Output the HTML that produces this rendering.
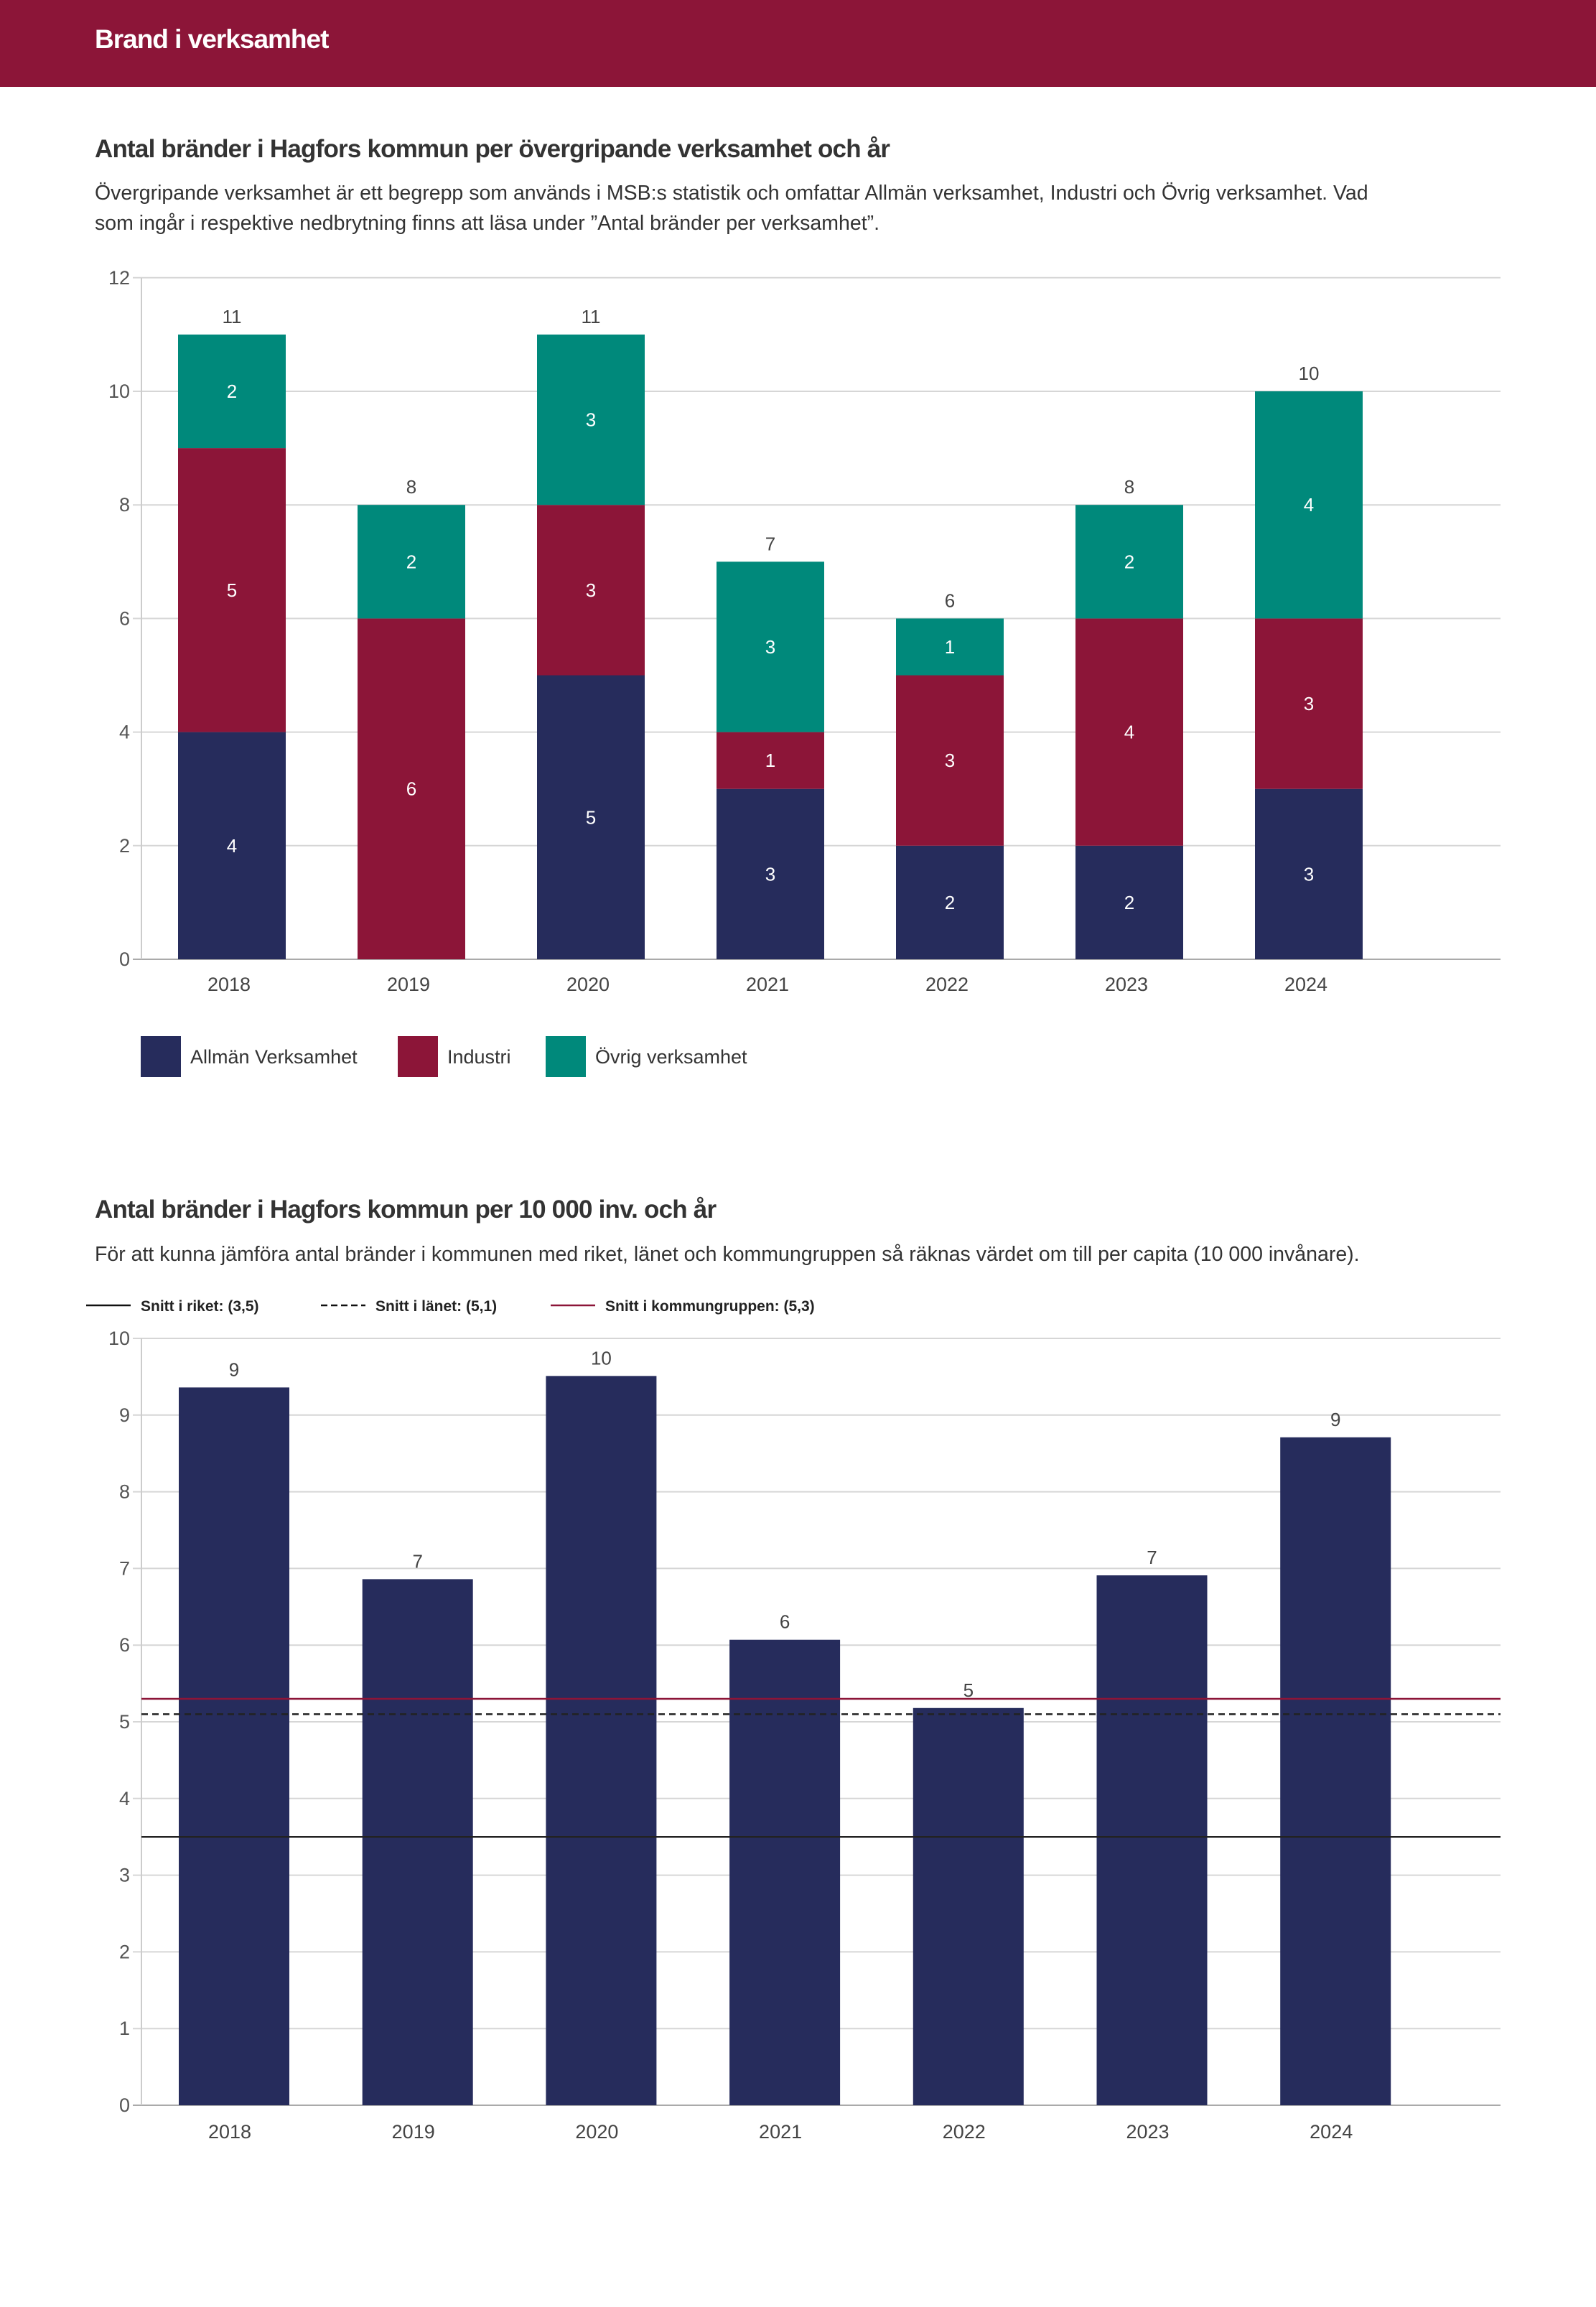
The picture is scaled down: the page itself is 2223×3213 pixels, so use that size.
<!DOCTYPE html>
<html><head><meta charset="utf-8">
<style>
html,body{margin:0;padding:0;background:#fff;}
body{width:2223px;height:3213px;position:relative;overflow:hidden;font-family:"Liberation Sans",sans-serif;}
.hdr{position:absolute;left:0;top:0;width:2223px;height:121px;background:#8c1538;}
.hdr span{position:absolute;left:132px;top:34px;color:#fff;font-weight:bold;font-size:37px;letter-spacing:-1px;}
.t{position:absolute;left:132px;color:#333;font-weight:bold;font-size:35px;letter-spacing:-0.8px;white-space:nowrap;}
.s{position:absolute;left:132px;color:#333;font-size:28.5px;white-space:nowrap;line-height:42px;}
svg{position:absolute;left:0;top:0;}
</style></head>
<body>
<div class="hdr"><span>Brand i verksamhet</span></div>
<div class="t" style="top:188px">Antal bränder i Hagfors kommun per övergripande verksamhet och år</div>
<div class="s" style="top:248px">Övergripande verksamhet är ett begrepp som används i MSB:s statistik och omfattar Allmän verksamhet, Industri och Övrig verksamhet. Vad<br>som ingår i respektive nedbrytning finns att läsa under ”Antal bränder per verksamhet”.</div>
<div class="t" style="top:1665px">Antal bränder i Hagfors kommun per 10 000 inv. och år</div>
<div class="s" style="top:1726px">För att kunna jämföra antal bränder i kommunen med riket, länet och kommungruppen så räknas värdet om till per capita (10 000 invånare).</div>
<svg id="c" width="2223" height="3213" xmlns="http://www.w3.org/2000/svg" font-family="Liberation Sans, sans-serif"></svg>
<script>
const years = ["2018","2019","2020","2021","2022","2023","2024"];
const allman = [4,0,5,3,2,2,3];
const industri = [5,6,3,1,3,4,3];
const ovrig = [2,2,3,3,1,2,4];
const ticks1 = [0,2,4,6,8,10,12];
const perCapita = [9.36,6.86,9.51,6.07,5.18,6.91,8.71];
const perCapitaLabels = ["9","7","10","6","5","7","9"];
const ticks2 = [0,1,2,3,4,5,6,7,8,9,10];
const refRiket = 3.5;
const refLanet = 5.1;
const refGrupp = 5.3;

const svg = document.getElementById('c');
const NS = 'http://www.w3.org/2000/svg';
function mk(tag, at, txt){const e=document.createElementNS(NS,tag);for(const k in at)e.setAttribute(k,at[k]);if(txt!==undefined)e.textContent=txt;svg.appendChild(e);return e;}
const NAVY='#262c5c', RED='#8c1538', TEAL='#00897b';

// chart 1
const y1 = v => 1336 - v*79.1;
const x1 = i => 323 + i*250;
ticks1.forEach(t=>{
  const g=mk('line',{x1:185,x2:2090,y1:y1(t),y2:y1(t),stroke:t===0?'#aaa':'#d6d6d6','stroke-width':2});
  
  
  const l=mk('text',{x:181,y:y1(t)+9,'text-anchor':'end','font-size':27,fill:'#555'},t);
  
  
});
const ax1=mk('line',{x1:197,x2:197,y1:387,y2:1336,stroke:'#ccc','stroke-width':2});


years.forEach((yr,i)=>{
  const cx=x1(i), w=150;
  const segs=[[allman[i],NAVY,'allman'],[industri[i],RED,'industri'],[ovrig[i],TEAL,'ovrig']];
  let base=0;
  segs.forEach(([v,c,n])=>{
    if(v>0){
      const r=mk('rect',{x:cx-w/2,y:y1(base+v),width:w,height:y1(base)-y1(base+v),fill:c});
      
      
      const t=mk('text',{x:cx,y:(y1(base)+y1(base+v))/2+9,'text-anchor':'middle','font-size':26,fill:'#fff'},v);
      
      
    }
    base+=v;
  });
  const tl=mk('text',{x:cx,y:y1(base)-16,'text-anchor':'middle','font-size':26,fill:'#444'},base);
  
  
  const xl=mk('text',{x:cx-4,y:1380,'text-anchor':'middle','font-size':27,fill:'#444'},yr);
  
  
});
// legend 1
[[196,NAVY,'Allmän Verksamhet'],[554,RED,'Industri'],[760,TEAL,'Övrig verksamhet']].forEach(([x,c,n])=>{
  const r=mk('rect',{x:x,y:1443,width:56,height:57,fill:c});
  
  
  const t=mk('text',{x:x+69,y:1481,'font-size':27,fill:'#333'},n);
  
  
});

// chart 2
const y2 = v => 2932 - v*106.8;
const x2 = i => 326 + i*255.7;
ticks2.forEach(t=>{
  const g=mk('line',{x1:185,x2:2090,y1:y2(t),y2:y2(t),stroke:t===0?'#aaa':'#d6d6d6','stroke-width':2});
  
  
  const l=mk('text',{x:181,y:y2(t)+9,'text-anchor':'end','font-size':27,fill:'#555'},t);
  
  
});
const ax2=mk('line',{x1:197,x2:197,y1:1864,y2:2932,stroke:'#ccc','stroke-width':2});


years.forEach((yr,i)=>{
  const cx=x2(i), w=154, v=perCapita[i];
  const r=mk('rect',{x:cx-w/2,y:y2(v),width:w,height:y2(0)-y2(v),fill:NAVY});
  
  
  const t=mk('text',{x:cx,y:y2(v)-16,'text-anchor':'middle','font-size':26,fill:'#444'},perCapitaLabels[i]);
  
  
  const xl=mk('text',{x:cx-6,y:2978,'text-anchor':'middle','font-size':27,fill:'#444'},yr);
  
  
});
const l1=mk('line',{x1:197,x2:2090,y1:y2(refRiket),y2:y2(refRiket),stroke:'#222','stroke-width':2.5});


const l2=mk('line',{x1:197,x2:2090,y1:y2(refLanet),y2:y2(refLanet),stroke:'#222','stroke-width':2.5,'stroke-dasharray':'9,6'});


const l3=mk('line',{x1:197,x2:2090,y1:y2(refGrupp),y2:y2(refGrupp),stroke:RED,'stroke-width':2.5});


// legend 2
[[120,'#111',null,'Snitt i riket: (3,5)'],[447,'#111','9,5','Snitt i länet: (5,1)'],[767,RED,null,'Snitt i kommungruppen: (5,3)']].forEach(([x,c,d,n])=>{
  const at={x1:x,x2:x+62,y1:1818,y2:1818,stroke:c,'stroke-width':2.5};
  if(d)at['stroke-dasharray']=d;
  const ln=mk('line',at);
  
  
  const t=mk('text',{x:x+76,y:1826,'font-size':21,'font-weight':'bold',fill:'#222'},n);
  
  
});
</script>
</body></html>
